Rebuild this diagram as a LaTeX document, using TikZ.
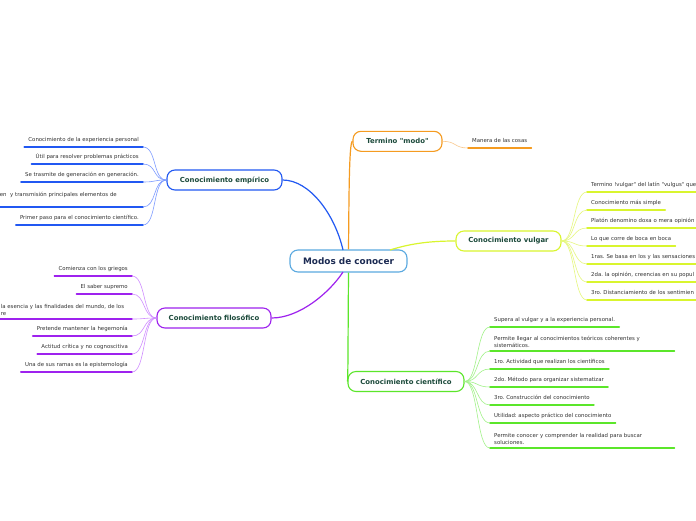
\documentclass[tikz,border=0pt]{standalone}
\usepackage{fontspec}
\setmainfont{DejaVu Sans}[Ligatures=TeXOff]
\frenchspacing
\definecolor{cBlue}{HTML}{2158F2}
\definecolor{cBlueL}{HTML}{7D9BFF}
\definecolor{cPur}{HTML}{9E22EE}
\definecolor{cPurL}{HTML}{D08EFF}
\definecolor{cYel}{HTML}{D9F52E}
\definecolor{cYelL}{HTML}{E6F77E}
\definecolor{cGrn}{HTML}{5BE62A}
\definecolor{cGrnL}{HTML}{A3F28A}
\definecolor{cOra}{HTML}{F59B20}
\definecolor{cOraL}{HTML}{F9C98F}
\definecolor{cCen}{HTML}{5BA9E0}
\definecolor{tMain}{HTML}{1C4A3B}
\definecolor{tCen}{HTML}{1B2A52}
\definecolor{tLeaf}{HTML}{333333}
\tikzset{
  mainbox/.style={draw, rounded corners=8pt, fill=white, line width=1.1pt,
    minimum height=20pt, inner sep=0pt,
    font=\fontsize{6.9}{8}\selectfont\bfseries, text=tMain},
  leaf/.style={font=\fontsize{5.4}{7}\selectfont, text=tLeaf, inner xsep=4pt,
    inner ysep=3.5pt, align=left, text depth=1.4pt},
  multi/.style={text depth=},
  clipr/.style={text width=112pt},
  ul/.style={line width=1.6pt, line cap=round},
  fan/.style={line width=0.6pt},
  trunk/.style={line width=1.2pt}
}
\begin{document}
\begin{tikzpicture}[x=1pt,y=-1pt]
\useasboundingbox (0,0) rectangle (696,520);
\fill[white] (0,0) rectangle (696,520);
\clip (0,0) rectangle (696,520);

% central node
\node[draw=cCen, fill=white, rounded corners=8pt, line width=1.1pt,
      minimum width=117pt, minimum height=22pt, inner sep=0pt,
      font=\fontsize{8.9}{10}\selectfont\bfseries, text=tCen] (cen) at (348.5,261) {Modos de conocer};

% main nodes
\node[mainbox, draw=cOra, minimum width=89pt] (term) at (397.5,141.3) {Termino "modo"};
\node[mainbox, draw=cBlue, minimum width=115pt] (emp) at (224.5,180) {Conocimiento empírico};
\node[mainbox, draw=cYel, minimum width=105pt] (vul) at (508.5,241) {Conocimiento vulgar};
\node[mainbox, draw=cPur, minimum width=114pt] (fil) at (214,318) {Conocimiento filosófico};
\node[mainbox, draw=cGrn, minimum width=116pt] (sci) at (406,381.5) {Conocimiento científico};

% trunk connectors
\draw[trunk, cOra] (cen.north) .. controls (349,200) and (349,141.3) .. (term.west);
\draw[trunk, cBlue] (emp.east) .. controls (310,180) and (335,215) .. (343,250);
\coordinate (cenNE) at (390,250);
\draw[trunk, cYel] (cenNE) .. controls (412,243) and (432,241) .. (vul.west);
\coordinate (cenSW) at (343,272);
\draw[trunk, cPur] (cenSW) .. controls (330,292) and (300,318) .. (fil.east);
\draw[trunk, cGrn] (cen.south) .. controls (348,340) and (348,381.5) .. (sci.west);

% Termino leaf
\node[leaf, anchor=south west] (t1) at (468,148) {Manera de las cosas};
\draw[ul, draw=cOra] (t1.south west) -- (t1.south east);
\draw[fan, cOraL] (term.east) .. controls +(14,0) and +(-14,0) .. (t1.south west);

% empirico leaves
\node[leaf, anchor=south east] (e1) at (143,147) {Conocimiento de la experiencia personal};
\node[leaf, anchor=south east] (e2) at (143,164) {Útil para resolver problemas prácticos};
\node[leaf, anchor=south east] (e3) at (143,182) {Se trasmite de generación en generación.};
\node[leaf, multi, anchor=south east, text width=139pt] (e4) at (143,207) {en\ \ y transmisión principales elementos de\\\mbox{}};
\node[leaf, anchor=south east] (e5) at (143,225) {Primer paso para el conocimiento científico.};
\foreach \n in {e1,e2,e3,e4,e5}{
  \draw[ul, cBlue] (\n.south west) -- (\n.south east);
  \draw[fan, cBlueL] (emp.west) .. controls +(-14,0) and +(14,0) .. (\n.south east);
}

% filosofico leaves
\node[leaf, anchor=south east] (f1) at (132,276) {Comienza con los griegos};
\node[leaf, anchor=south east] (f2) at (132,294) {El saber supremo};
\node[leaf, multi, anchor=south east, text width=127pt] (f3) at (132,319) {la esencia y las finalidades del mundo, de los\\re};
\node[leaf, anchor=south east] (f4) at (132,336) {Pretende mantener la hegemonía};
\node[leaf, anchor=south east] (f5) at (132,354) {Actitud crítica y no cognoscitiva};
\node[leaf, anchor=south east] (f6) at (132,372) {Una de sus ramas es la epistemología};
\foreach \n in {f1,f2,f3,f4,f5,f6}{
  \draw[ul, cPur] (\n.south west) -- (\n.south east);
  \draw[fan, cPurL] (fil.west) .. controls +(-14,0) and +(14,0) .. (\n.south east);
}

% vulgar leaves
\node[leaf, clipr, anchor=south west] (v1) at (587,192) {Termino !vulgar" del latín "vulgus" que};
\node[leaf, anchor=south west] (v2) at (587,210) {Conocimiento más simple};
\node[leaf, clipr, anchor=south west] (v3) at (587,228) {Platón denomino doxa o mera opinión};
\node[leaf, anchor=south west] (v4) at (587,246) {Lo que corre de boca en boca};
\node[leaf, clipr, anchor=south west] (v5) at (587,264) {1ras. Se basa en los y las sensaciones};
\node[leaf, clipr, anchor=south west] (v6) at (587,282) {2da. la opinión, creencias en su popul};
\node[leaf, clipr, anchor=south west] (v7) at (587,300) {3ro. Distanciamiento de los sentimien};
\foreach \n in {v1,v2,v3,v4,v5,v6,v7}{
  \draw[ul, cYel] (\n.south west) -- (\n.south east);
  \draw[fan, cYelL] (vul.east) .. controls +(14,0) and +(-14,0) .. (\n.south west);
}

% cientifico leaves
\node[leaf, anchor=south west] (s1) at (490,327) {Supera al vulgar y a la experiencia personal.};
\node[leaf, multi, anchor=south west, text width=176pt] (s2) at (490,351) {Permite llegar al conocimientos teóricos coherentes y\\sistemáticos.};
\node[leaf, anchor=south west] (s3) at (490,369) {1ro. Actividad que realizan los científicos};
\node[leaf, anchor=south west] (s4) at (490,387) {2do. Método para organizar sistematizar};
\node[leaf, anchor=south west] (s5) at (490,405) {3ro. Construcción del conocimiento};
\node[leaf, anchor=south west] (s6) at (490,423) {Utilidad: aspecto práctico del conocimiento};
\node[leaf, multi, anchor=south west, text width=176pt] (s7) at (490,448) {Permite conocer y comprender la realidad para buscar\\soluciones.};
\foreach \n in {s1,s2,s3,s4,s5,s6,s7}{
  \draw[ul, cGrn] (\n.south west) -- (\n.south east);
  \draw[fan, cGrnL] (sci.east) .. controls +(14,0) and +(-14,0) .. (\n.south west);
}
\end{tikzpicture}
\end{document}
